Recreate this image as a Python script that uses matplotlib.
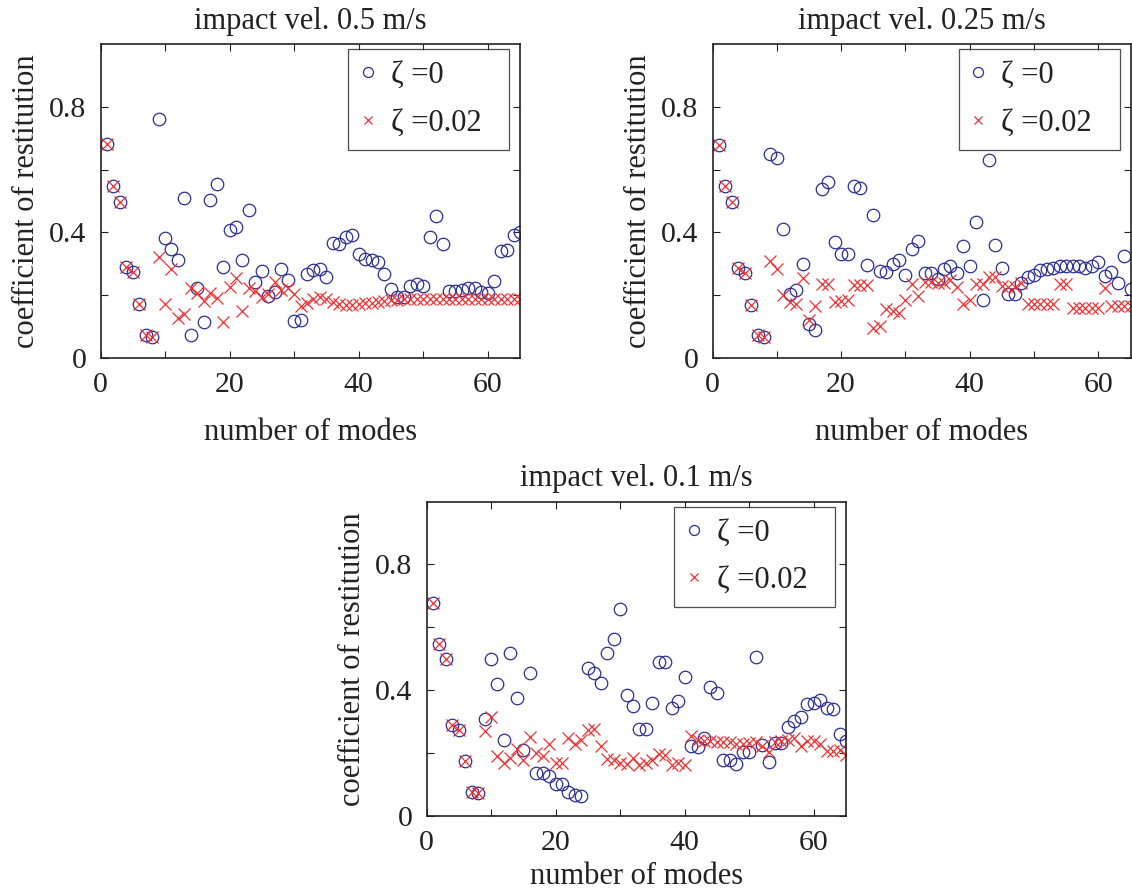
import numpy as np
import matplotlib
matplotlib.use("Agg")
import matplotlib.pyplot as plt

plt.rcParams['font.family'] = ['Liberation Serif', 'DejaVu Serif']

# number of retained modes
modes = list(range(1, 66))

# coefficient of restitution, impact velocity 0.5 m/s
v05_undamped = [0.680, 0.548, 0.498, 0.289, 0.275, 0.173, 0.073, 0.069, 0.762, 0.382,
                0.347, 0.311, 0.511, 0.074, 0.225, 0.117, 0.503, 0.553, 0.291, 0.408,
                0.418, 0.313, 0.472, 0.244, 0.276, 0.198, 0.212, 0.285, 0.248, 0.120,
                0.122, 0.269, 0.282, 0.283, 0.260, 0.368, 0.364, 0.387, 0.391, 0.332,
                0.315, 0.313, 0.307, 0.268, 0.220, 0.196, 0.196, 0.231, 0.235, 0.231,
                0.386, 0.451, 0.365, 0.214, 0.214, 0.217, 0.222, 0.222, 0.212, 0.209,
                0.245, 0.341, 0.344, 0.393, 0.400]
v05_damped = [0.680, 0.548, 0.498, 0.289, 0.275, 0.173, 0.073, 0.069, 0.323, 0.173,
              0.283, 0.127, 0.141, 0.222, 0.207, 0.182, 0.207, 0.191, 0.116, 0.228,
              0.256, 0.150, 0.223, 0.214, 0.196, 0.203, 0.244, 0.217, 0.222, 0.204,
              0.166, 0.177, 0.189, 0.195, 0.190, 0.178, 0.172, 0.168, 0.168, 0.172,
              0.175, 0.177, 0.180, 0.182, 0.185, 0.186, 0.187, 0.188, 0.188, 0.189,
              0.189, 0.189, 0.189, 0.189, 0.189, 0.189, 0.189, 0.189, 0.189, 0.189,
              0.189, 0.189, 0.189, 0.189, 0.189]

# coefficient of restitution, impact velocity 0.25 m/s
v025_undamped = [0.678, 0.547, 0.497, 0.288, 0.272, 0.171, 0.074, 0.069, 0.651, 0.638,
                 0.412, 0.205, 0.216, 0.299, 0.109, 0.090, 0.537, 0.559, 0.371, 0.333,
                 0.331, 0.548, 0.540, 0.297, 0.457, 0.277, 0.274, 0.301, 0.313, 0.266,
                 0.349, 0.372, 0.271, 0.271, 0.253, 0.285, 0.294, 0.271, 0.356, 0.292,
                 0.434, 0.186, 0.630, 0.361, 0.287, 0.205, 0.205, 0.241, 0.257, 0.266,
                 0.280, 0.284, 0.287, 0.292, 0.294, 0.295, 0.292, 0.286, 0.292, 0.305,
                 0.262, 0.273, 0.241, 0.326, 0.220]
v025_damped = [0.678, 0.547, 0.497, 0.288, 0.272, 0.171, 0.074, 0.069, 0.308, 0.285,
               0.200, 0.179, 0.173, 0.255, 0.123, 0.165, 0.235, 0.237, 0.179, 0.182,
               0.184, 0.234, 0.234, 0.234, 0.097, 0.104, 0.157, 0.149, 0.145, 0.186,
               0.237, 0.197, 0.244, 0.244, 0.239, 0.239, 0.250, 0.228, 0.172, 0.185,
               0.236, 0.236, 0.260, 0.260, 0.231, 0.228, 0.228, 0.241, 0.172, 0.172,
               0.172, 0.172, 0.172, 0.236, 0.236, 0.159, 0.159, 0.159, 0.159, 0.159,
               0.223, 0.167, 0.167, 0.167, 0.167]

# coefficient of restitution, impact velocity 0.1 m/s
v01_undamped = [0.678, 0.548, 0.498, 0.289, 0.275, 0.174, 0.075, 0.073, 0.310, 0.498,
                0.421, 0.241, 0.519, 0.376, 0.211, 0.455, 0.137, 0.137, 0.128, 0.101,
                0.101, 0.076, 0.068, 0.065, 0.469, 0.455, 0.424, 0.517, 0.564, 0.659,
                0.384, 0.351, 0.277, 0.277, 0.360, 0.489, 0.489, 0.344, 0.367, 0.442,
                0.222, 0.219, 0.248, 0.410, 0.390, 0.179, 0.179, 0.166, 0.203, 0.203,
                0.505, 0.227, 0.171, 0.233, 0.233, 0.283, 0.303, 0.315, 0.355, 0.358,
                0.370, 0.344, 0.341, 0.261, 0.240]
v01_damped = [0.678, 0.548, 0.498, 0.289, 0.275, 0.174, 0.075, 0.073, 0.270, 0.315,
              0.192, 0.167, 0.185, 0.213, 0.177, 0.252, 0.200, 0.190, 0.229, 0.167,
              0.169, 0.248, 0.229, 0.241, 0.275, 0.277, 0.224, 0.182, 0.179, 0.167,
              0.165, 0.185, 0.163, 0.169, 0.179, 0.197, 0.195, 0.163, 0.169, 0.163,
              0.254, 0.243, 0.238, 0.238, 0.235, 0.235, 0.235, 0.229, 0.229, 0.232,
              0.235, 0.222, 0.203, 0.235, 0.238, 0.243, 0.248, 0.221, 0.238, 0.237,
              0.228, 0.207, 0.206, 0.210, 0.194]

titles = ['impact vel. 0.5 m/s', 'impact vel. 0.25 m/s', 'impact vel. 0.1 m/s']
series = [(v05_undamped, v05_damped), (v025_undamped, v025_damped),
          (v01_undamped, v01_damped)]
labels = ['ζ =0', 'ζ =0.02']
x_ticks = [0, 10, 20, 30, 40, 50, 60]
x_ticklabels = ['0', '', '20', '', '40', '', '60']
y_ticks = [0, 0.2, 0.4, 0.6, 0.8]
y_ticklabels = ['0', '', '0.4', '', '0.8']

BLUE = '#2b2f96'
RED = '#f03030'
INK = '#222222'
FS = 22

W, H = 1132, 890
# axes boxes in pixels: left, bottom (from top), width, height, xlabel offset
boxes = [(100.5, 358.3, 419.5, 314.5, 60),
         (712.5, 358.3, 418.0, 314.5, 60),
         (426.5, 816.0, 419.5, 314.5, 46)]

fig = plt.figure(figsize=(W / 100, H / 100), dpi=100)
fig.patch.set_facecolor('white')

for (l, b, w, h, xoff), title, (s0, s1) in zip(boxes, titles, series):
    ax = fig.add_axes([l / W, (H - b) / H, w / W, h / H])
    ax.plot(modes, s0, linestyle='none', marker='o', markersize=9,
            markerfacecolor='none', markeredgecolor=BLUE, markeredgewidth=0.9,
            label=labels[0] + '  ')
    ax.plot(modes, s1, linestyle='none', marker='x', markersize=8,
            markeredgecolor=RED, markeredgewidth=0.9, label=labels[1] + '  ')
    ax.set_xlim(0, 65)
    ax.set_ylim(0, 1)
    ax.set_xticks(x_ticks)
    ax.set_xticklabels(x_ticklabels)
    ax.set_yticks(y_ticks)
    ax.set_yticklabels(y_ticklabels)
    ax.tick_params(direction='in', length=5, width=0.8, top=True, right=True,
                   labelsize=FS - 0.5, pad=10, colors=INK)
    for sp in ax.spines.values():
        sp.set_linewidth(1.2)
        sp.set_color(INK)
    ax.set_title(title, fontsize=FS, pad=11, color=INK)
    ax.set_xlabel('number of modes', fontsize=FS, color=INK)
    ax.set_ylabel('coefficient of restitution', fontsize=FS, color=INK)
    ax.xaxis.set_label_coords(0.5, -xoff / h)
    ax.yaxis.set_label_coords(-60 / w, 0.5)
    leg = ax.legend(loc='upper right', bbox_to_anchor=(1 - 11 / w, 1 - 5 / h),
                    borderaxespad=0, fontsize=FS, frameon=True, fancybox=False,
                    handlelength=0.5, handletextpad=0.5, borderpad=0.4,
                    labelspacing=0.6, markerscale=0.8)
    leg.get_frame().set_edgecolor(INK)
    leg.get_frame().set_linewidth(0.9)
    for t in leg.get_texts():
        t.set_color(INK)

fig.savefig('out.png', dpi=100)
